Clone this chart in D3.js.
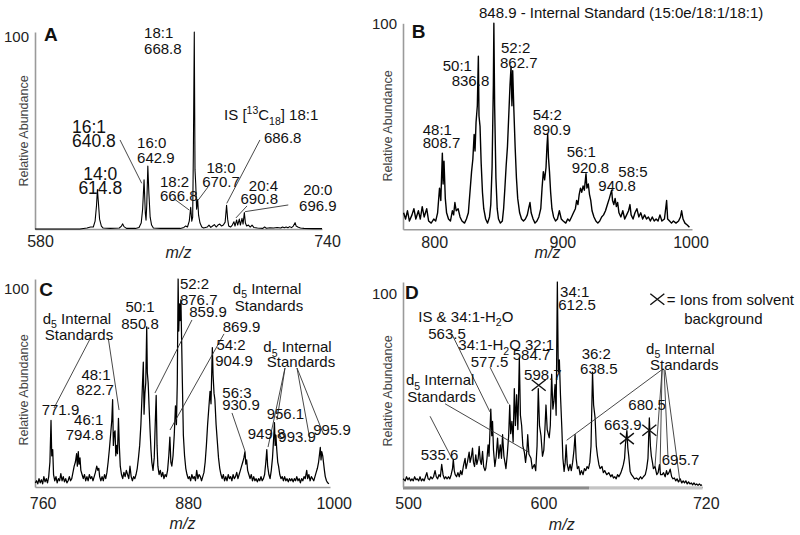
<!DOCTYPE html>
<html><head><meta charset="utf-8">
<script src="https://cdn.jsdelivr.net/npm/d3@7"></script>
<style>
body{margin:0;background:#fff}
svg text{font-family:"Liberation Sans",Arial,Helvetica,sans-serif;white-space:pre}
</style>
</head><body>
<svg id="chart" width="800" height="535"></svg>
<script>
// ---------- DATA: [m/z, relative abundance %] ----------
const spectrumA = [[580,0],[605,0],[609,0.5],[611,1],[612.5,1],[613.5,4],[614.3,12],[614.8,20],[615.3,14],[616,5],[617,1.5],[618,0.5],[622,0.3],[627,0.5],[628.2,1.5],[628.9,2.6],[629.6,1.2],[631,0.3],[636,0.3],[638,0.8],[639.2,3],[640,10],[640.8,25],[641.5,8],[641.9,4.5],[642.3,12],[642.9,32],[643.5,18],[644.2,6],[645,2],[646,0.5],[650,0.3],[655,0.3],[661,0.3],[663,0.8],[664,1.5],[665,1],[666,4],[666.8,11],[667.4,4],[667.9,6],[668.3,40],[668.8,100],[669.2,30],[669.6,23],[670.1,10],[670.7,15],[671.2,7],[672,3],[673,1],[674,0.5],[676,1],[677,2],[678,0.8],[679,1.5],[680,2.2],[681,1],[682,2],[683,2.5],[684,1.5],[685,2],[686,3.5],[686.8,12],[687.4,5],[688,1.5],[689,1],[690,2],[690.9,3.7],[691.5,1.5],[692.4,4.6],[693,2],[693.9,5],[694.5,2],[695.4,5.4],[696,2.5],[696.7,8.3],[697.3,3],[698,1.5],[699,2],[700,1],[701,2],[702,0.8],[704,0.5],[707,0.3],[708,1],[709,0.4],[711,0.6],[713,0.5],[715,0.8],[717,0.5],[718,1],[719,0.6],[720,1],[721,0.6],[722,1.2],[723,0.7],[724,1.5],[725,3.2],[725.6,1.5],[726.5,1],[728,0.5],[730,0.3],[735,0.2],[740,0.2]];

const spectrumB = [[778.5,8],[780,5],[781.5,9],[783,4],[785,7],[786.5,10],[788,5],[790,9],[791.5,5],[793,11],[794.5,6],[796.5,10],[798,4],[800,3],[802,5],[803.5,4],[805,8],[806.5,20],[807.5,14],[808.7,37],[809.3,22],[810,33],[811,15],[812,8],[813.5,5],[815,4],[816.5,9],[817.5,7],[818.5,13],[819.5,9],[821,10],[822.5,6],[824,4],[826,3],[827.5,5],[829,8],[830.5,20],[831.5,28],[832.5,34],[833.5,46],[834.2,38],[835,52],[836,60],[836.8,84],[837.3,55],[838.1,50],[839,32],[840,18],[841,10],[842.5,5],[844,3],[845.5,6],[846.5,12],[847.5,30],[848.5,70],[848.9,100],[849.5,60],[850.5,25],[851.5,10],[852.5,5],[854,3],[855.5,4],[856.5,10],[857.5,20],[858.5,31],[859.5,40],[860.5,55],[861.5,70],[862.3,79],[863,60],[863.6,77],[864.5,58],[865.5,40],[866.5,25],[867.5,15],[869,8],[870.5,5],[872,4],[873.5,5],[875,7],[876,10],[877.1,13],[878,8],[879.5,5],[881,3],[882.5,4],[884,6],[885.5,10],[886.5,20],[887.5,28],[888.5,24],[889.6,30],[890.3,40],[890.9,46],[891.5,35],[892.3,28],[893.2,18],[894.2,10],[895.5,6],[897,4],[898.5,5],[900,9],[901.5,5],[903,4],[905,3],[906.5,5],[908,4],[909.5,6],[911,8],[912.5,10],[913.5,14],[914.5,12],[915.5,17],[916.5,20],[917.5,18],[918.5,21],[919.5,19],[920.8,27],[921.5,20],[922.6,22],[923.5,17],[924.5,14],[925.5,9],[927,6],[928.5,4],[930,3],[931.5,4],[933,6],[934.5,7],[936,9],[937.5,12],[939,15],[940.8,19],[941.5,14],[942.5,12],[943.5,15],[944.5,11],[945.5,13],[946.5,8],[948,6],[949.5,9],[951,5],[952.5,7],[954,9],[955.1,12],[956,7],[957.5,5],[959,8],[960.5,10],[962,6],[963.5,8],[965,5],[966.5,7],[968,5],[969.5,6],[971,4],[972.5,6],[974,4],[975.5,5],[977,4],[978.5,7],[980,4],[982,5],[983.7,14],[984.5,5],[986,4],[987.5,3],[989,4],[991,3],[993,4],[994.5,6],[995.4,9],[996.5,5],[998,3],[1000,2],[1001.5,1]];

const spectrumC = [[759,2],[760,3],[761,1.5],[762,4],[763,2],[764,3.5],[765,1.5],[766,5],[767,2.5],[768,4],[769,2],[770,5],[771,12],[771.9,32],[772.5,15],[773.3,18],[774,6],[775,3],[776,5],[777,2],[778,4],[779,3],[780,6.4],[781,3],[782,5],[783,2.5],[784,4],[785,2],[786,3],[787,5],[788,3],[789,4],[790,7],[791,10],[792,12],[793,16],[793.6,10],[794.4,17],[795,11],[795.8,14],[796.5,8],[797.5,6],[798.5,4],[799.5,6],[800.5,3],[801.5,5],[802.5,3],[803.5,6],[804.5,4],[805.5,5],[806.5,3],[807.5,5],[808.5,7],[809.6,10],[810.5,8],[811.3,9],[812,5],[813,3],[814,5],[815,3],[816,6],[817,4],[818,7],[819,12],[820,18],[821,25],[822,32],[822.7,42],[823.3,20],[824,26],[824.7,27],[825.3,15],[826,20],[826.7,16],[827.5,33],[828.2,20],[829,10],[830,6],[831,4],[832,7],[833,5],[834,8],[835,6],[836,4],[837,10],[838,5],[839,3],[840,5],[841,4],[842,6],[843,9],[844,14],[845,20],[846,30],[847,45],[848,60],[848.6,35],[849.3,45],[850,50],[850.8,77],[851.3,55],[852,50],[852.8,38],[853.5,28],[854.3,18],[855,12],[856,8],[857,14],[857.8,30],[858.6,44],[859.3,20],[860,10],[861,6],[862,8],[863,5],[864,7],[865,4],[866,6],[867,5],[868,8],[869,15],[869.9,24],[870.7,12],[871.5,10],[872.5,15],[873.5,25],[874.5,39],[875.3,30],[876,50],[876.7,100],[877.2,75],[877.8,88],[878.4,80],[879,90],[879.6,70],[880.2,50],[881,25],[882,15],[883,9],[884,6],[885,4],[886,5],[887,3],[888,6],[889,4],[890,5],[891,3],[892,8],[893,4],[894,6],[895,5],[896,3],[897,5],[898,7],[899,12],[900,20],[901,30],[902,38],[903,46],[903.8,40],[904.4,55],[904.9,67],[905.5,54],[906.3,45],[907,42],[908,30],[909,22],[910,14],[911,9],[912,6],[913,4],[914,6],[915,3],[916,5],[917,3],[918,6],[919,4],[920,5],[921,3],[922,6],[923,4],[924,5],[925,7],[926,4],[927,6],[928,8],[929,10],[930,12],[930.9,14],[931.8,17],[932.5,11],[933.2,13],[934,8],[935,6],[936,4],[937,6],[938,3],[939,5],[940,3],[941,4],[942,2.5],[943,4],[944,3],[945,5],[946,3],[947,4],[948,6],[949,12],[949.8,18],[950.5,10],[951.5,6],[952.5,4],[953.5,8],[954.5,14],[955.3,22],[956.1,31],[956.7,20],[957.3,25],[958,18],[958.8,12],[959.5,10],[960.5,6],[961.5,4],[962.5,5],[963.5,3],[964.5,5],[965.5,3],[966.5,4],[967.5,2.5],[968.5,4],[969.5,3],[970.5,4],[971.5,2.5],[972.5,4],[973.5,3],[974.5,5],[975.5,3],[976.5,4],[977.5,2],[978.5,4],[979.5,3],[980.5,5],[981.5,4],[982.7,8],[983.5,4],[984.5,6],[985.5,3],[986.5,5],[987.5,4],[988.5,3],[989.5,5],[990.5,7],[991.5,9],[992.5,12],[993.3,16],[993.9,19],[994.5,13],[995.1,17],[995.9,15],[996.5,12],[997.3,8],[998,5],[999,3],[1000,2],[1001,1.5]];

const spectrumD = [[498.5,4],[500,3],[501,5],[502,3.5],[503,4.5],[504,3],[505,4],[506,3],[507,5],[508,3.5],[509,4],[510,3],[511,5],[512,3],[513,4],[514,3],[515,5],[516,7],[517,4],[518,3.5],[519,5],[520,4],[521,5],[522.1,8],[523,5],[524,4],[525,6],[526,5],[527,11],[528,6],[529,4],[530,5],[531,4],[532,5],[533,4],[534,6],[535,9],[535.6,13.5],[536.3,8],[537,6],[538,5],[539,7],[540,5],[541,8],[542,6],[543,10],[544.3,14],[545,9],[546,12],[547.3,17],[548,12],[549,15],[549.8,19],[550.5,12],[551.3,10],[552.2,15.7],[553,11],[554,14],[554.7,19.8],[555.5,13],[556.3,11],[557.2,17.4],[558,10],[559,8],[559.6,9],[560.5,14],[561.3,20.6],[562,15],[563.3,38],[564,25],[564.6,32],[565.3,18],[566.3,10],[567.3,15],[568.3,23.9],[569.2,14],[570.3,20.6],[571.2,14],[572,25.5],[573,15],[574,11],[574.5,9],[575.5,16],[576.5,25],[577.3,40],[578,26],[578.9,32],[579.8,22],[580.7,48],[581.5,30],[582.4,45],[583.3,28],[584.4,63],[585.2,35],[586.1,30],[587,20],[588.1,17],[589,12],[590,18],[590.6,25.5],[591.5,16],[593,14],[594,9],[595.5,11],[596.5,8],[597.5,20],[598.4,48],[599.3,30],[600.4,25],[601.5,15],[602.5,18],[603.3,28],[604.1,40],[605,28],[606.5,24],[607.3,30],[608.3,55],[609.2,38],[610,42],[610.8,50],[611.6,35],[612.5,100],[613.2,56],[614,62],[614.8,45],[615.8,29],[616.6,14],[617.5,7.6],[618.3,12],[619,20.6],[619.8,11],[620.8,8],[621.9,11],[622.8,8],[623.8,12],[624.8,18],[625.6,25.5],[626.4,14],[627.3,9],[628.3,10],[629.3,6],[630.3,8],[631.5,6],[632.5,9],[633.5,8],[634.5,10],[635.5,9],[636.5,12],[637.4,20],[638.5,56],[639.3,40],[640.4,33.7],[641.3,20],[642.2,15],[643.2,11],[644.1,9],[645.5,10],[646.5,7],[647.5,8],[649,6],[650.5,7],[652,5],[653,6],[654,4.4],[655,5],[656,4],[657,6],[658,5],[659.5,7],[660.5,9],[661.3,10.9],[662.2,14],[662.8,20.6],[663.9,27.5],[664.6,19],[665.3,15],[666.3,7.6],[667.3,6],[668.5,5],[669.5,4],[671,4.4],[672.5,3.5],[674,5],[675,4],[676.1,5],[677.5,6],[678.5,9],[679.5,14],[680.5,33.7],[681.3,20],[682,15],[682.8,12],[683.5,9],[684.7,10],[686,6],[687,7],[688,10.9],[688.8,6],[690,6],[691,7],[692.2,5],[693.2,8],[694,6],[695,7],[695.9,8.7],[697,5],[698,4],[699,4.4],[700,3],[701,4],[702,2.5],[703.3,4],[704.5,2],[705.5,3],[706.5,2],[707.5,3],[708.5,1.5],[709.5,2.5],[710.5,1.5],[711.5,2],[712.5,1],[713.5,2],[714.5,1],[715.5,1.5],[716.5,0.8],[717.5,1.5],[718.5,0.8],[719.5,1]];

// x tick labels
const ticksA = [580, 740];
const ticksB = [800, 900, 1000];
const ticksC = [760, 880, 1000];
const ticksD = [500, 600, 720];

// peak annotations: [text, m/z, abundance, anchor]
const labelsA = [["18:1",640.8,97.1,"start"],["668.8",640.8,88.7,"start"],["16:0",636.9,41.0,"start"],["642.9",636.9,33.4,"start"],["18:2",649.7,21.1,"start"],["666.8",649.7,14.0,"start"],["18:0",683.7,28.4,"middle"],["670.7",683.7,21.3,"middle"],["IS [^{13}C_{18}] 18:1",685.4,55.3,"start"],["686.8",707.6,43.5,"start"],["20:4",715.5,19.3,"end"],["690.8",715.5,12.7,"end"],["20:0",737.7,17.3,"middle"],["696.9",737.7,9.1,"middle"]];
const bigLabelsA = [["16:1",600.6,48.6,"start"],["640.8",600.6,41.5,"start"],["14:0",616.4,24.9,"middle"],["614.8",616.4,17.8,"middle"]];
const labelsB = [["848.9 - Internal Standard (15:0e/18:1/18:1)",837.3,102.4,"start"],["50:1",809.0,77.0,"start"],["836.8",816.0,69.6,"start"],["52:2",854.5,85.6,"start"],["862.7",853.7,78.3,"start"],["48:1",793.4,45.6,"start"],["808.7",793.4,39.6,"start"],["54:2",879.2,53.1,"start"],["890.9",879.7,45.8,"start"],["56:1",905.7,35.0,"start"],["920.8",909.6,27.2,"start"],["58:5",946.0,25.2,"start"],["940.8",930.4,18.5,"start"]];
const labelsC = [["d_{5} Internal",793.3,78.5,"middle"],["Standards",795.0,70.5,"middle"],["50:1",845.3,84.1,"middle"],["850.8",845.3,76.1,"middle"],["52:2",878.2,95.3,"start"],["876.7",878.2,87.4,"start"],["859.9",885.9,81.7,"start"],["869.9",913.5,74.5,"start"],["d_{5} Internal",950.0,92.9,"middle"],["Standards",951.6,84.6,"middle"],["54:2",920.3,65.7,"middle"],["904.9",922.8,58.2,"middle"],["d_{5} Internal",975.1,64.9,"middle"],["Standards",978.0,57.7,"middle"],["48:1",809.0,51.3,"middle"],["822.7",808.2,44.1,"middle"],["771.9",779.7,34.5,"middle"],["46:1",815.0,29.7,"end"],["794.8",815.0,22.5,"end"],["56:3",925.2,42.6,"middle"],["930.9",928.5,36.9,"middle"],["956.1",949.7,32.8,"start"],["949.8",934.1,23.2,"start"],["993.9",959.3,21.6,"start"],["995.9",988.1,25.0,"start"]];
const labelsD = [["34:1",614.5,92.7,"start"],["612.5",613.2,86.2,"start"],["= Ions from solvent",693.4,88.6,"start"],["background",735.2,79.7,"middle"],["IS & 34:1-H_{2}O",509.7,80.5,"start"],["563.5",517.1,72.3,"start"],["34:1-H_{2}O",539.3,66.7,"start"],["577.5",548.5,58.5,"start"],["32:1",588.6,66.7,"start"],["584.7",579.5,62.0,"start"],["598.7",587.9,52.0,"start"],["36:2",630.5,62.6,"start"],["638.5",629.3,55.3,"start"],["d_{5} Internal",678.1,65.0,"start"],["Standards",681.0,56.9,"start"],["d_{5} Internal",500.6,49.6,"start"],["Standards",501.6,41.5,"start"],["535.6",511.5,13.0,"start"],["663.9",647.0,27.7,"start"],["680.5",665.0,37.4,"start"],["695.7",689.7,10.6,"start"]];

// leader lines: [mz1, I1, mz2, I2]
const leadersA = [[627.4,45.2,639.5,23.2],[657.1,15.6,666.0,9.6],[671.0,14.7,676.6,21.5],[686.9,13.0,705.4,45.2],[692.0,5.6,698.2,11.7],[697.1,8.8,721.2,12.2]];
const leadersC = [[804.9,72.1,774.4,38.0],[819.1,71.6,828.0,37.0],[888.1,80.3,857.6,45.2],[914.5,73.6,870.0,27.4],[921.1,35.6,931.8,17.3],[964.8,57.2,950.8,19.2],[964.8,57.2,958.2,32.2],[974.7,57.2,985.4,22.6],[974.7,57.2,996.1,26.0]];
const leadersD = [[534.4,74.8,562.7,36.6],[562.7,58.5,576.3,40.6],[518.4,34.5,534.4,14.1],[529.5,40.6,591.0,17.1],[690.8,57.7,619.4,22.8],[689.9,57.1,684.7,10.2],[689.9,57.1,688.4,8.3],[691.4,57.1,694.3,14.1],[692.1,57.1,703.2,2.4]];

// solvent background ions (x marks) and legend mark
const crossesD = [[598.7,49.6],[663.9,23.6],[680.5,27.7]];
const legendCrossD = [[686.4,91.6]];

// panel letters: [letter, mz, I]
const letterA = ["A",585.0,95.4], letterB = ["B",784.8,92.7], letterC = ["C",762.3,91.7], letterD = ["D",499.9,91.9];

// ---------- LAYOUT ----------
const panels = [
  {spec:spectrumA, ticks:ticksA, labels:labelsA, big:bigLabelsA, leaders:leadersA, letter:letterA, sw:1.1,
   domain:[580,740], xr:[35,322], yr:[229,32], tickY:18, tickDx:5, hundredDy:9, raX:-7, raY:131, mzY:258},
  {spec:spectrumB, ticks:ticksB, labels:labelsB, big:[], leaders:[], letter:letterB, sw:1.4,
   domain:[778,1003.5], xr:[403,692], yr:[229.3,23.3], tickY:19, tickDx:3, hundredDy:5, raX:-11, raY:126, mzY:258},
  {spec:spectrumC, ticks:ticksC, labels:labelsC, big:[], leaders:leadersC, letter:letterC, sw:1.25,
   domain:[758.7,1001.9], xr:[35,330], yr:[487,279], tickY:21.5, tickDx:6, hundredDy:14.7, raX:-7, raY:390, mzY:529},
  {spec:spectrumD, ticks:ticksD, labels:labelsD, big:[], leaders:leadersD, letter:letterD, sw:1.25,
   domain:[498.4,719.8], xr:[403,702.5], yr:[487,282], tickY:21.5, tickDx:3, hundredDy:16.7, raX:-11, raY:391, mzY:530, mzDx:9,
   crosses:crossesD, legendCross:legendCrossD, band:[[498.4,636,"#8c8c8c"],[636,719.8,"#c4c4c4"]]}
];

const svg = d3.select("#chart");

function richText(sel, str, fs) {
  const parts = str.split(/(_\{[^}]*\}|\^\{[^}]*\})/).filter(s => s.length);
  let shift = 0;
  parts.forEach(p => {
    let t = p, ns = 0, small = false;
    if (p.startsWith("_{")) { t = p.slice(2, -1); ns = 0.3 * fs; small = true; }
    else if (p.startsWith("^{")) { t = p.slice(2, -1); ns = -0.4 * fs; small = true; }
    const ts = sel.append("tspan").text(t).attr("dy", ns - shift);
    if (small) ts.attr("font-size", fs * 0.7);
    shift = ns;
  });
}

function drawCross(g, cx, cy) {
  g.append("path").attr("d", `M${cx-7},${cy-5.5}L${cx+7},${cy+5.5}M${cx-7},${cy+5.5}L${cx+7},${cy-5.5}`)
    .attr("stroke", "#111").attr("stroke-width", 1.4).attr("fill", "none");
}

panels.forEach(p => {
  const g = svg.append("g");
  const x = d3.scaleLinear().domain(p.domain).range(p.xr);
  const y = d3.scaleLinear().domain([0, 100]).range(p.yr);

  // x axis
  const xa = g.append("g").attr("transform", `translate(0,${p.yr[0]})`)
    .call(d3.axisBottom(x).tickValues(p.ticks).tickSize(0).tickFormat(d3.format("d")));
  xa.select(".domain").attr("stroke", "#9a9a9a").attr("stroke-width", 1.6);
  xa.selectAll("text").attr("y", p.tickY).attr("dy", 0).attr("dx", p.tickDx)
    .attr("font-size", 16).attr("fill", "#222").attr("font-family", '"Liberation Sans",Arial,sans-serif');
  if (p.band) {
    p.band.forEach(b => g.append("line").attr("x1", x(b[0])).attr("x2", x(b[1]))
      .attr("y1", p.yr[0] + 1).attr("y2", p.yr[0] + 1).attr("stroke", b[2]).attr("stroke-width", 3));
  }

  // y axis
  const ya = g.append("g").attr("transform", `translate(${p.xr[0]},0)`)
    .call(d3.axisLeft(y).tickValues([100]).tickSize(0));
  ya.select(".domain").attr("stroke", "#9a9a9a").attr("stroke-width", 1.6);
  ya.selectAll("text").attr("x", -6).attr("dy", p.hundredDy).attr("font-size", 15).attr("fill", "#222")
    .attr("font-family", '"Liberation Sans",Arial,sans-serif');

  // axis titles
  g.append("text").attr("x", (p.xr[0] + p.xr[1]) / 2 + (p.mzDx || 0)).attr("y", p.mzY)
    .attr("text-anchor", "middle").attr("font-size", 16).attr("font-style", "italic").attr("fill", "#222").text("m/z");
  g.append("text").attr("transform", `translate(${p.xr[0] + p.raX},${p.raY}) rotate(-90)`)
    .attr("text-anchor", "middle").attr("font-size", 12.5).attr("fill", "#444").text("Relative Abundance");

  // spectrum
  const line = d3.line().x(d => x(d[0])).y(d => y(d[1]));
  g.append("path").datum(p.spec).attr("d", line).attr("fill", "none")
    .attr("stroke", "#000").attr("stroke-width", p.sw).attr("stroke-linejoin", "round");

  // leaders
  g.selectAll(".ld").data(p.leaders).enter().append("line")
    .attr("x1", d => x(d[0])).attr("y1", d => y(d[1])).attr("x2", d => x(d[2])).attr("y2", d => y(d[3]))
    .attr("stroke", "#333").attr("stroke-width", 0.9);

  // labels
  p.labels.forEach(l => {
    const t = g.append("text").attr("x", x(l[1])).attr("y", y(l[2])).attr("text-anchor", l[3])
      .attr("font-size", 15).attr("fill", "#111");
    richText(t, l[0], 15);
  });
  p.big.forEach(l => {
    const t = g.append("text").attr("x", x(l[1])).attr("y", y(l[2])).attr("text-anchor", l[3])
      .attr("font-size", 17.5).attr("fill", "#111");
    richText(t, l[0], 17.5);
  });

  // panel letter
  g.append("text").attr("x", x(p.letter[1])).attr("y", y(p.letter[2]))
    .attr("font-size", 19).attr("font-weight", "bold").attr("fill", "#111").text(p.letter[0]);

  if (p.crosses) {
    p.crosses.forEach(c => drawCross(g, x(c[0]), y(c[1])));
    p.legendCross.forEach(c => drawCross(g, x(c[0]), y(c[1])));
  }
});
</script>
</body></html>
